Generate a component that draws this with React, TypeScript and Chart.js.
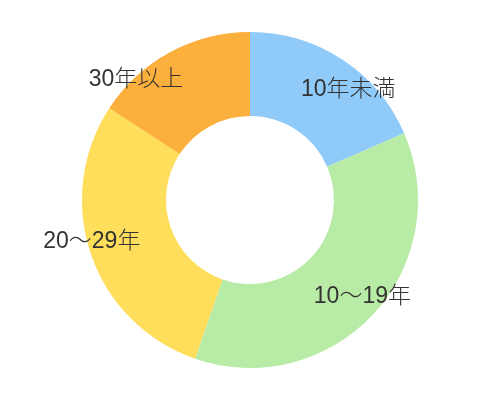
import { useEffect, useRef } from 'react';
import { Chart, registerables } from 'chart.js';

Chart.register(...registerables);

const labels = ['10年未満', '10〜19年', '20〜29年', '30年以上'];
const shares = [18.5, 36.8, 28.9, 15.8];
const colors = ['#8fcaf8', '#b8eba5', '#ffde5c', '#fbaf3c'];
// label nudges from the middle of each ring segment (px)
const labelNudge = [
  [29, -5],
  [20, 11],
  [-39, 1],
  [-54, -10],
];

const sliceLabels = {
  id: 'sliceLabels',
  afterDatasetsDraw(chart: Chart) {
    const ctx = chart.ctx;
    const meta = chart.getDatasetMeta(0);
    ctx.save();
    ctx.font = '300 23px "Liberation Sans", "Noto Sans CJK JP", sans-serif';
    ctx.fillStyle = '#333333';
    ctx.textAlign = 'center';
    ctx.textBaseline = 'middle';
    meta.data.forEach((arc: any, i: number) => {
      const { x, y, startAngle, endAngle, innerRadius, outerRadius } = arc.getProps(
        ['x', 'y', 'startAngle', 'endAngle', 'innerRadius', 'outerRadius'],
        true
      );
      const mid = (startAngle + endAngle) / 2;
      const r = (innerRadius + outerRadius) / 2;
      const [dx, dy] = labelNudge[i];
      ctx.fillText(labels[i], x + Math.cos(mid) * r + dx, y + Math.sin(mid) * r + dy);
    });
    ctx.restore();
  },
};

export default function App() {
  const canvasRef = useRef<HTMLCanvasElement>(null);

  useEffect(() => {
    document.body.style.margin = '0';
    if (!canvasRef.current) return;
    const chart = new Chart(canvasRef.current, {
      type: 'doughnut',
      data: {
        labels,
        datasets: [
          {
            data: shares,
            backgroundColor: colors,
            borderWidth: 0,
          },
        ],
      },
      options: {
        responsive: false,
        animation: false,
        cutout: '50%',
        layout: { padding: 32 },
        plugins: {
          legend: { display: false },
          tooltip: { enabled: false },
        },
      },
      plugins: [sliceLabels],
    });
    return () => chart.destroy();
  }, []);

  return (
    <div style={{ width: 500, height: 400, background: '#ffffff' }}>
      <canvas ref={canvasRef} width={500} height={400}></canvas>
    </div>
  );
}
